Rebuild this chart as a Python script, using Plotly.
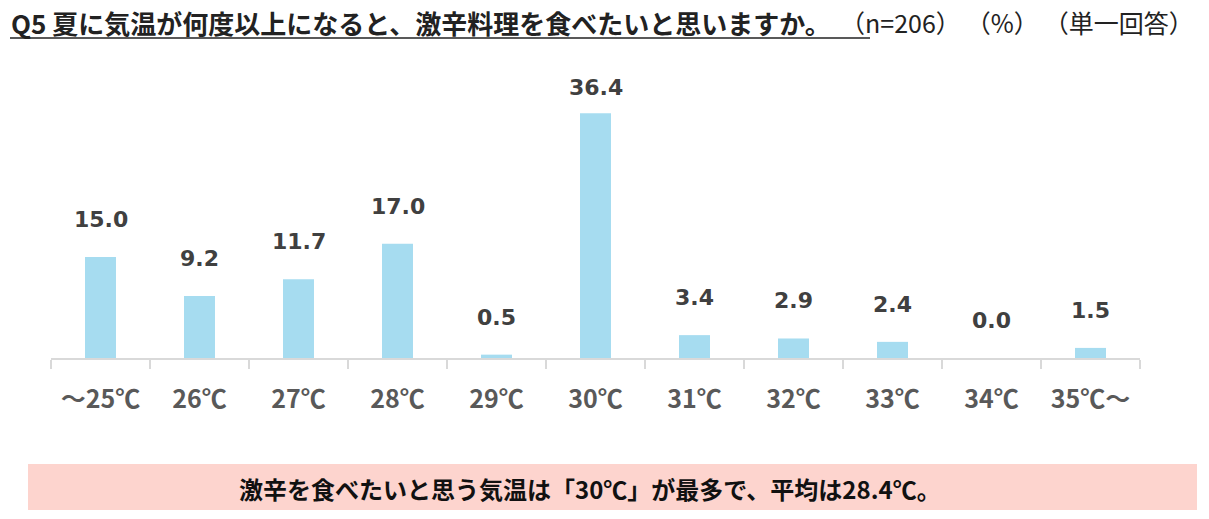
import plotly.graph_objects as go

categories = ["～25℃", "26℃", "27℃", "28℃", "29℃", "30℃", "31℃", "32℃", "33℃", "34℃", "35℃～"]
values = [15.0, 9.2, 11.7, 17.0, 0.5, 36.4, 3.4, 2.9, 2.4, 0.0, 1.5]

title_main = "Q5 夏に気温が何度以上になると、激辛料理を食べたいと思いますか。"
title_sub = "（n=206）\u2009（%）\u2009（単一回答）"
summary = "激辛を食べたいと思う気温は「30℃」が最多で、平均は28.4℃。"

W, H = 1209, 519
L, R, T, B = 51, 69, 60, 161
pw = W - L - R
ph = H - T - B

def px_x(p):
    return (p - L) / pw

def px_y(p):
    return (H - B - p) / ph

CJK = "Noto Sans CJK JP, sans-serif"
NUM = "DejaVu Sans, Noto Sans CJK JP, sans-serif"

fig = go.Figure()
fig.add_trace(go.Bar(
    x=categories, y=values,
    marker=dict(color="#a6dcf0", line=dict(width=0)),
    hoverinfo="skip",
))

vmax = max(values)
for c, v in zip(categories, values):
    fig.add_annotation(
        x=c, y=v, xref="x", yref="y",
        text=f"<b>{v:.1f}</b>", showarrow=False,
        yanchor="bottom", yshift=11 if v == vmax else 23,
        font=dict(family=NUM, size=22, color="#404040"),
    )

fig.add_annotation(
    xref="paper", yref="paper", x=px_x(9), y=px_y(22),
    xanchor="left", yanchor="middle", showarrow=False,
    text=f"<b>{title_main}</b>",
    font=dict(family=CJK, size=26, color="#222222"),
)
fig.add_annotation(
    xref="paper", yref="paper", x=px_x(1196), y=px_y(22),
    xanchor="right", yanchor="middle", showarrow=False,
    text=title_sub,
    font=dict(family=CJK, size=25, color="#222222"),
)
fig.add_shape(
    type="line", xref="paper", yref="paper",
    x0=px_x(10), x1=px_x(870), y0=px_y(38), y1=px_y(38),
    line=dict(color="#222222", width=1.5),
)

fig.add_shape(
    type="rect", xref="paper", yref="paper",
    x0=px_x(28), x1=px_x(1197), y0=px_y(510), y1=px_y(464),
    fillcolor="#fdd4ce", line=dict(width=0), layer="below",
)
fig.add_annotation(
    xref="paper", yref="paper", x=px_x(590), y=px_y(488),
    xanchor="center", yanchor="middle", showarrow=False,
    text=f"<b>{summary}</b>",
    font=dict(family=CJK, size=24, color="#111111"),
)

fig.update_layout(
    width=W, height=H,
    margin=dict(l=L, r=R, t=T, b=B),
    paper_bgcolor="white", plot_bgcolor="white",
    bargap=0.687,
    showlegend=False,
)
fig.update_xaxes(
    type="category",
    showline=True, linecolor="#d9d9d9", linewidth=2,
    ticks="outside", tickson="boundaries", ticklen=9, tickcolor="#d9d9d9", tickwidth=2,
    tickfont=dict(family=CJK, size=25, color="#595959", weight="bold"),
    ticklabelstandoff=18,
    showgrid=False, zeroline=False,
)
fig.update_yaxes(
    range=[0, 44.3], visible=False, showgrid=False, zeroline=False,
)

fig.write_html(
    "out.html",
    config={"displayModeBar": False},
    post_script="document.body.style.margin='0px';document.body.style.overflow='hidden';",
)
